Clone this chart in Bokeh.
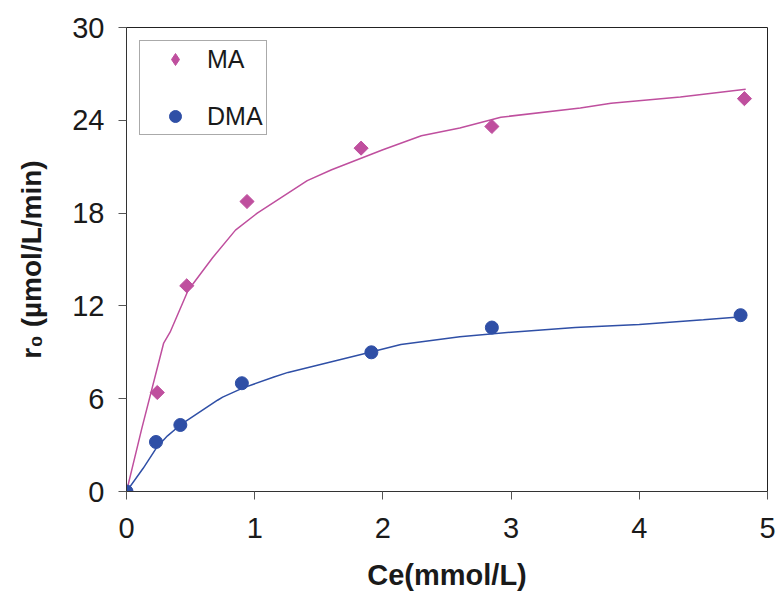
import math
from bokeh.plotting import figure
from bokeh.models import Legend, LegendItem, Range1d, FixedTicker
from bokeh.embed import file_html
from bokeh.resources import INLINE

# Measured points
ma_x = [0.0, 0.24, 0.47, 0.94, 1.83, 2.85, 4.82]
ma_y = [0.0, 6.4, 13.3, 18.75, 22.2, 23.6, 25.4]
dma_x = [0.0, 0.23, 0.42, 0.90, 1.91, 2.85, 4.79]
dma_y = [0.0, 3.2, 4.3, 7.0, 9.0, 10.6, 11.4]

# Fitted curves
ma_fit_x = [0.0, 0.12, 0.29, 0.34, 0.48, 0.67, 0.85, 1.02, 1.41, 1.6, 2.0, 2.3, 2.6, 2.92, 3.54, 3.78, 4.32, 4.83]
ma_fit_y = [0.0, 4.1, 9.6, 10.3, 13.0, 15.1, 16.9, 18.0, 20.1, 20.8, 22.1, 23.0, 23.5, 24.2, 24.8, 25.1, 25.5, 26.0]
dma_fit_x = [0.0, 0.13, 0.24, 0.32, 0.42, 0.71, 0.75, 0.91, 1.15, 1.26, 1.9, 2.14, 2.6, 3.0, 3.5, 4.0, 4.5, 4.8]
dma_fit_y = [0.0, 1.5, 2.9, 3.6, 4.3, 5.9, 6.1, 6.7, 7.4, 7.7, 9.0, 9.5, 10.0, 10.3, 10.6, 10.8, 11.1, 11.3]

x_ticks = [0, 1, 2, 3, 4, 5]
y_ticks = [0, 6, 12, 18, 24, 30]

MAG = "#BF4F9E"
BLUE = "#2F4FA6"
FONT = "Liberation Sans"

p = figure(output_backend="svg", toolbar_location=None,
           width=777, height=596,
           x_range=Range1d(0, 5), y_range=Range1d(0, 30),
           min_border_left=126, min_border_top=27, min_border_right=10, min_border_bottom=105)
p.frame_width = 641
p.frame_height = 464

p.xgrid.visible = False
p.ygrid.visible = False
p.outline_line_color = "#222222"
p.outline_line_width = 1
p.background_fill_color = "white"
p.border_fill_color = "white"

for ax in (p.xaxis[0], p.yaxis[0]):
    ax.axis_line_color = "#333333"
    ax.axis_line_width = 1
    ax.major_tick_line_color = "#555555"
    ax.major_tick_out = 8
    ax.major_tick_in = 0
    ax.minor_tick_line_color = None
    ax.major_label_text_font = FONT
    ax.major_label_text_font_size = "29px"
    ax.major_label_text_color = "#1a1a1a"
    ax.axis_label_text_font = FONT
    ax.axis_label_text_font_style = "bold"
    ax.axis_label_text_color = "#1a1a1a"

p.xaxis.axis_label_text_font_size = "29px"
p.yaxis.axis_label_text_font_size = "28px"
p.xaxis.ticker = FixedTicker(ticks=x_ticks)
p.yaxis.ticker = FixedTicker(ticks=y_ticks)
p.xaxis.major_label_standoff = 18
p.yaxis.major_label_standoff = 14
p.xaxis.axis_label = "Ce(mmol/L)"
p.yaxis.axis_label = "r\u2080 (\u00b5mol/L/min)"
p.xaxis.axis_label_standoff = 18
p.yaxis.axis_label_standoff = 22

p.line(ma_fit_x, ma_fit_y, line_color=MAG, line_width=1.5)
p.line(dma_fit_x, dma_fit_y, line_color=BLUE, line_width=1.5)

r_ma = p.scatter(ma_x, ma_y, marker="square", size=10, angle=math.pi / 4,
                 fill_color=MAG, line_color=MAG)
r_dma = p.scatter(dma_x, dma_y, marker="circle", size=13, fill_color=BLUE, line_color=BLUE)

# hidden renderer used only to give the legend a diamond key
r_ma_key = p.scatter(ma_x, ma_y, marker="diamond", size=16, fill_color=MAG, line_color=MAG,
                     visible=False)

legend = Legend(items=[LegendItem(label="MA", renderers=[r_ma_key]),
                       LegendItem(label="DMA", renderers=[r_dma])],
                location="top_left")
legend.margin = 13
legend.padding = 3
legend.spacing = 27
legend.glyph_width = 64
legend.glyph_height = 30
legend.label_height = 30
legend.label_standoff = 0
legend.label_text_font = FONT
legend.label_text_font_size = "25px"
legend.label_text_color = "#1a1a1a"
legend.border_line_color = "#555555"
legend.border_line_width = 1
legend.background_fill_alpha = 1
p.add_layout(legend)

open("out.html", "w").write(file_html(p, INLINE))
